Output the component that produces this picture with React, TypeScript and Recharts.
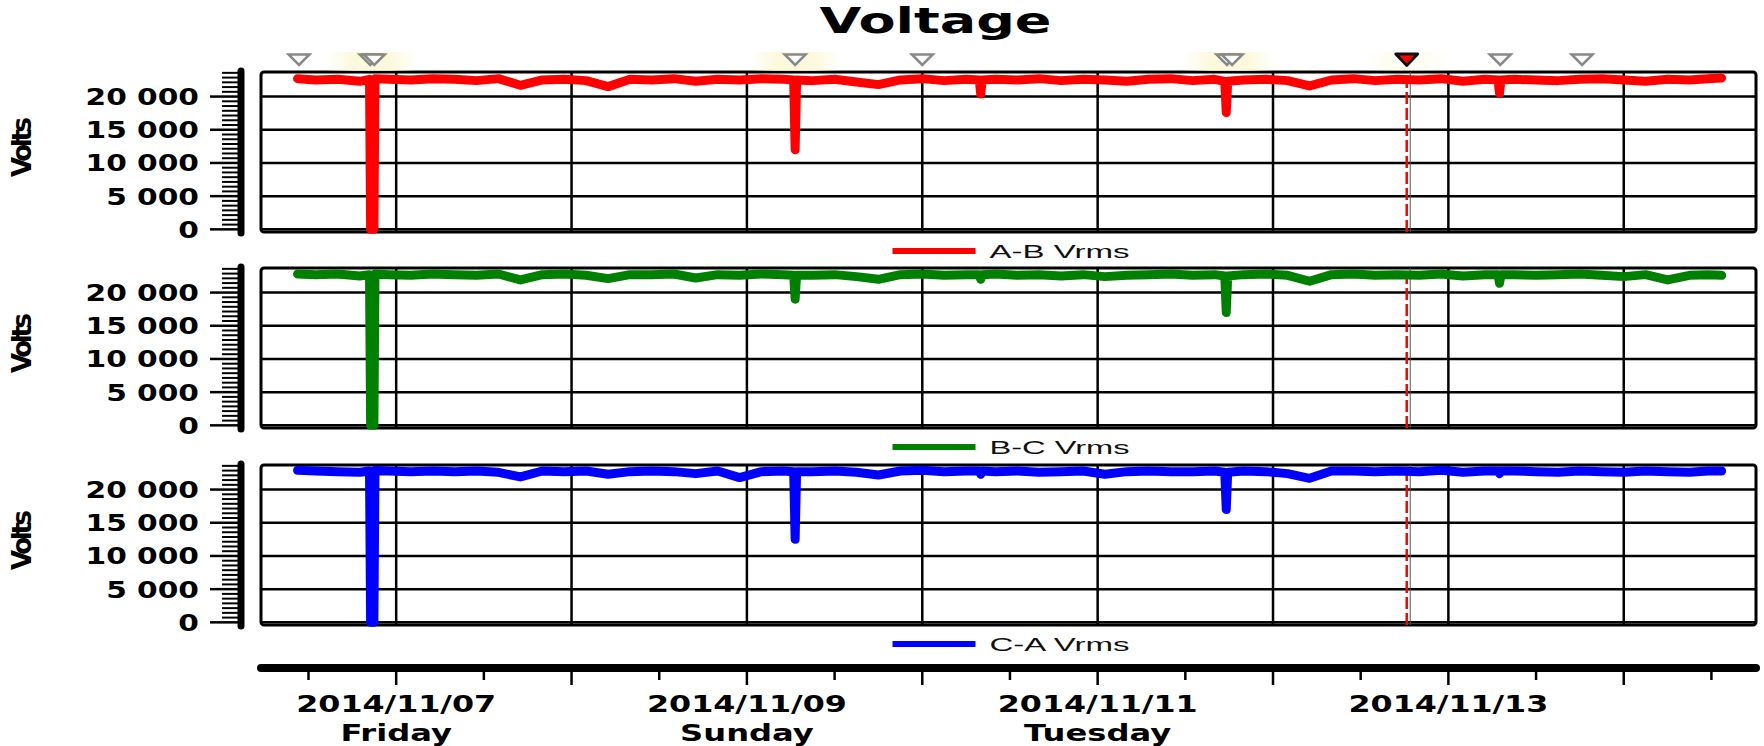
import React from 'react';
import {
  ComposedChart,
  Line,
  XAxis,
  YAxis,
  CartesianGrid,
  ReferenceLine,
  ReferenceArea,
  Scatter,
} from 'recharts';

// ---------- data (hours relative to 2014/11/07 00:00) ----------
const HOURS = [
  -13.5, -11, -8, -5, -3.65, -3.5, -3.05, -2.9, -1, 2,
  5, 8, 11, 14, 17, 20, 23, 26, 29, 32,
  35, 38, 41, 44, 47, 50, 53, 54.4, 54.6, 54.8,
  57, 60, 63, 66, 69, 72, 75, 78, 79.8, 80,
  80.2, 82, 85, 88, 91, 94, 97, 100, 103, 106,
  109, 112, 113.4, 113.6, 113.8, 116, 119, 122, 125, 128,
  131, 134, 137, 140, 143, 146, 149, 150.8, 151, 151.2,
  153, 156, 159, 162, 165, 168, 171, 174, 177, 179.5,
  181.4,
];

const AB_VRMS = [
  22700, 22500, 22600, 22300, 22600, 0, 0, 22700, 22600, 22500,
  22700, 22600, 22400, 22700, 21700, 22500, 22600, 22400, 21500, 22600,
  22500, 22700, 22300, 22600, 22500, 22700, 22600, 22500, 12000, 22500,
  22400, 22600, 22200, 21800, 22500, 22700, 22400, 22600, 22500, 20400,
  22500, 22600, 22500, 22700, 22400, 22600, 22500, 22300, 22600, 22700,
  22400, 22600, 22300, 17600, 22300, 22500, 22600, 22400, 21600, 22500,
  22700, 22400, 22600, 22500, 22700, 22300, 22600, 22500, 20500, 22500,
  22600, 22500, 22400, 22600, 22700, 22500, 22300, 22600, 22500, 22700,
  22800,
];

const BC_VRMS = [
  22800, 22700, 22800, 22500, 22700, 0, 0, 22800, 22700, 22600,
  22800, 22700, 22600, 22800, 21900, 22700, 22800, 22600, 22100, 22700,
  22700, 22800, 22200, 22700, 22600, 22800, 22700, 22600, 19000, 22600,
  22600, 22700, 22400, 22000, 22700, 22800, 22600, 22700, 22700, 22000,
  22700, 22800, 22600, 22700, 22500, 22700, 22400, 22600, 22700, 22800,
  22600, 22700, 22500, 17000, 22500, 22700, 22800, 22600, 21700, 22700,
  22800, 22600, 22700, 22600, 22800, 22500, 22700, 22700, 21400, 22700,
  22700, 22600, 22700, 22800, 22600, 22400, 22700, 21900, 22600, 22700,
  22600,
];

const CA_VRMS = [
  22900, 22800, 22700, 22600, 22800, 0, 0, 22900, 22800, 22700,
  22800, 22700, 22800, 22600, 21900, 22800, 22700, 22800, 22300, 22700,
  22800, 22700, 22400, 22800, 21800, 22700, 22800, 22700, 12500, 22700,
  22700, 22800, 22600, 22200, 22800, 22900, 22700, 22800, 22800, 22300,
  22800, 22700, 22800, 22600, 22700, 22800, 22300, 22700, 22800, 22700,
  22700, 22800, 22600, 17000, 22600, 22800, 22700, 22400, 21700, 22800,
  22800, 22700, 22800, 22700, 22900, 22600, 22800, 22800, 22400, 22800,
  22800, 22700, 22600, 22800, 22700, 22600, 22800, 22700, 22600, 22800,
  22800,
];

// event markers along the top of the first panel
const EVENT_HOURS = [-13.3, -3.55, -3.0, 54.6, 72.0, 113.7, 114.4, 151.1, 162.3];
const GLOW_HOURS = [-3.3, 54.6, 114.0, 138.3];
const GLOW_STRENGTH = [1, 1, 1, 0.35];
const CURSOR_HOUR = 138.3;

// axes
const X_DOMAIN: [number, number] = [-18.5, 186.1];
const Y_DOMAIN: [number, number] = [-400, 23700];
const DAY_HOURS = [0, 24, 48, 72, 96, 120, 144, 168];
const HALF_DAY_HOURS = [-12, 12, 36, 60, 84, 108, 132, 156, 180];
const DATE_LABEL_HOURS = [0, 48, 96, 144];
const DATE_LABELS = ['2014/11/07', '2014/11/09', '2014/11/11', '2014/11/13'];
const WEEKDAY_LABELS = ['Friday', 'Sunday', 'Tuesday', ''];
const Y_MAJOR = [0, 5000, 10000, 15000, 20000];
const Y_LABELS = ['0', '5 000', '10 000', '15 000', '20 000'];
const Y_MINOR_PER_MAJOR = 7;

const SERIES_NAMES = ['A-B Vrms', 'B-C Vrms', 'C-A Vrms'];
const SERIES_KEYS = ['ab', 'bc', 'ca'];
const SERIES_COLORS = ['#ff0000', '#008000', '#0000ff'];

// ---------- derived tables ----------
const ROWS = HOURS.map((h, i) => ({ h, ab: AB_VRMS[i], bc: BC_VRMS[i], ca: CA_VRMS[i] }));
const Y_TICKS: number[] = [];
for (let v = 0; v <= Y_DOMAIN[1]; v += 5000 / Y_MINOR_PER_MAJOR) Y_TICKS.push(v);
const X_TICKS = [...DAY_HOURS, ...HALF_DAY_HOURS].sort((a, b) => a - b);
const EVENTS = EVENT_HOURS.map((h) => ({ h, v: Y_DOMAIN[1] }));
const GLOWS = GLOW_HOURS.map((h, i) => ({ h, v: Y_DOMAIN[1], s: GLOW_STRENGTH[i] }));
const CURSOR = [{ h: CURSOR_HOUR, v: Y_DOMAIN[1] }];

// ---------- layout ----------
const W = 1764;
const PLOT_LEFT = 261;
const PLOT_RIGHT = 1756;
const PLOT_H = 160;
const M_TOP = 26;
const M_BOTTOM = 16;
const PANEL_TOPS = [72, 268, 465];
const AXIS_GAP = 20;
const X_AXIS_Y = 666;
const BOLD = '"DejaVu Sans", Verdana, sans-serif';

const YTick = (props: any) => {
  const { x, y, payload } = props;
  const v = payload.value;
  const ax = x - AXIS_GAP;
  const mi = Y_MAJOR.findIndex((m) => Math.abs(m - v) < 1);
  if (mi < 0) {
    return <line x1={ax - 19} x2={ax} y1={y} y2={y} stroke="#000" strokeWidth={2} />;
  }
  return (
    <g>
      <line x1={ax - 31} x2={ax} y1={y} y2={y} stroke="#000" strokeWidth={2.5} />
      <g transform={`translate(${ax - 42},${y + 8.5}) scale(1.29,1)`}>
        <text x={0} y={0} textAnchor="end" fontFamily={BOLD} fontWeight="bold" fontSize={23} fill="#000">
          {Y_LABELS[mi]}
        </text>
      </g>
    </g>
  );
};

const YDecor = (props: any) => {
  const vb = props.viewBox || {};
  const { x = 0, y = 0, width = PLOT_LEFT, height = PLOT_H } = vb;
  const ax = x + width - AXIS_GAP;
  return (
    <g>
      <line x1={ax} x2={ax} y1={y - 1} y2={y + height + 1} stroke="#000" strokeWidth={7} strokeLinecap="round" />
      <text
        transform={`translate(22,${y + height / 2 - 5}) rotate(-90)`}
        textAnchor="middle"
        dominantBaseline="central"
        fontFamily={BOLD}
        fontWeight="bold"
        fontSize={26}
        textLength={60}
        lengthAdjust="spacing"
        fill="#000"
      >
        Volts
      </text>
    </g>
  );
};

const CursorShape = (p: any) => (
  <g>
    <line x1={p.x1} x2={p.x2} y1={p.y1} y2={p.y2} stroke="#ff0000" strokeWidth={2.5} strokeDasharray="12 4" />
    <line x1={p.x1 + 3.5} x2={p.x2 + 3.5} y1={p.y1} y2={p.y2} stroke="#555" strokeWidth={1} />
  </g>
);

const Triangle = (p: any) => {
  const { cx, cy } = p;
  return (
    <path
      d={`M${cx - 10.5},${cy - 17.5} L${cx + 10.5},${cy - 17.5} L${cx},${cy - 7} Z`}
      fill="#fff"
      stroke="#888"
      strokeWidth={2.5}
      strokeLinejoin="miter"
    />
  );
};

const RedTriangle = (p: any) => {
  const { cx, cy } = p;
  return (
    <path
      d={`M${cx - 11},${cy - 18} L${cx + 11},${cy - 18} L${cx},${cy - 6.5} Z`}
      fill="#ff0000"
      stroke="#111"
      strokeWidth={2.8}
      strokeLinejoin="round"
    />
  );
};

const Glow = (p: any) => {
  const { cx, cy, payload } = p;
  const id = `glow-${Math.round(cx)}`;
  const s = payload && payload.s != null ? payload.s : 1;
  return (
    <g>
      <defs>
        <linearGradient id={id} x1="0" x2="1" y1="0" y2="0">
          <stop offset="0" stopColor="#fbf7d0" stopOpacity={0} />
          <stop offset="0.3" stopColor="#fbf7d0" stopOpacity={0.75 * s} />
          <stop offset="0.7" stopColor="#fbf7d0" stopOpacity={0.75 * s} />
          <stop offset="1" stopColor="#fbf7d0" stopOpacity={0} />
        </linearGradient>
      </defs>
      <rect x={cx - 46} y={cy - 20} width={92} height={19} fill={`url(#${id})`} />
    </g>
  );
};

const XTick = (props: any) => {
  const { x, y, payload } = props;
  const h = payload.value;
  const major = DAY_HOURS.includes(h);
  const li = DATE_LABEL_HOURS.indexOf(h);
  return (
    <g>
      <line x1={x} x2={x} y1={y} y2={y + (major ? 17 : 12)} stroke="#000" strokeWidth={2.5} />
      {li >= 0 && (
        <g transform={`translate(${x},${y + 44}) scale(1.38,1)`}>
          <text x={0} y={0} textAnchor="middle" fontFamily={BOLD} fontWeight="bold" fontSize={23} fill="#000">
            {DATE_LABELS[li]}
          </text>
        </g>
      )}
      {li >= 0 && WEEKDAY_LABELS[li] !== '' && (
        <g transform={`translate(${x},${y + 73}) scale(1.4,1)`}>
          <text x={0} y={0} textAnchor="middle" fontFamily={BOLD} fontWeight="bold" fontSize={23} fill="#000">
            {WEEKDAY_LABELS[li]}
          </text>
        </g>
      )}
    </g>
  );
};

function Panel({ idx }: { idx: number }) {
  const top = PANEL_TOPS[idx];
  const H = M_TOP + PLOT_H + M_BOTTOM;
  const showMarkers = idx === 0;
  return (
    <div style={{ position: 'absolute', left: 0, top: top - M_TOP, width: W, height: H }}>
      <ComposedChart
        width={W}
        height={H}
        data={ROWS}
        margin={{ top: M_TOP, right: W - PLOT_RIGHT, bottom: M_BOTTOM, left: 0 }}
      >
        <XAxis type="number" dataKey="h" domain={X_DOMAIN} ticks={DAY_HOURS} hide />
        <YAxis
          type="number"
          domain={Y_DOMAIN}
          ticks={Y_TICKS}
          interval={0}
          width={PLOT_LEFT}
          axisLine={false}
          tickLine={false}
          tickSize={0}
          tickMargin={0}
          tick={(p: any) => <YTick {...p} />}
          label={{ content: (p: any) => <YDecor {...p} /> }}
        />
        <CartesianGrid
          horizontalValues={Y_MAJOR}
          verticalValues={DAY_HOURS}
          stroke="#000"
          strokeWidth={2.5}
        />
        {showMarkers && (
          <Scatter data={GLOWS} dataKey="v" shape={(p: any) => <Glow {...p} />} isAnimationActive={false} />
        )}
        <ReferenceLine x={CURSOR_HOUR} shape={(p: any) => <CursorShape {...p} />} />
        <Line
          type="linear"
          dataKey={SERIES_KEYS[idx]}
          stroke={SERIES_COLORS[idx]}
          strokeWidth={9}
          strokeLinecap="round"
          strokeLinejoin="round"
          dot={false}
          activeDot={false}
          isAnimationActive={false}
        />
        <ReferenceArea
          x1={X_DOMAIN[0]}
          x2={X_DOMAIN[1]}
          y1={Y_DOMAIN[0]}
          y2={Y_DOMAIN[1]}
          fill="none"
          fillOpacity={0}
          stroke="#000"
          strokeWidth={3}
          radius={3}
        />
        {showMarkers && (
          <Scatter data={EVENTS} dataKey="v" shape={(p: any) => <Triangle {...p} />} isAnimationActive={false} />
        )}
        {showMarkers && (
          <Scatter data={CURSOR} dataKey="v" shape={(p: any) => <RedTriangle {...p} />} isAnimationActive={false} />
        )}
      </ComposedChart>
    </div>
  );
}

function BottomAxis() {
  const H = 104;
  const mt = 2;
  return (
    <div style={{ position: 'absolute', left: 0, top: X_AXIS_Y - mt, width: W, height: H }}>
      <ComposedChart
        width={W}
        height={H}
        data={ROWS}
        margin={{ top: mt, right: W - PLOT_RIGHT, bottom: 0, left: PLOT_LEFT }}
      >
        <XAxis
          type="number"
          dataKey="h"
          domain={X_DOMAIN}
          ticks={X_TICKS}
          interval={0}
          height={H - mt - 2}
          tickSize={0}
          tickMargin={0}
          tickLine={false}
          axisLine={{ stroke: '#000', strokeWidth: 8, strokeLinecap: 'round' }}
          tick={(p: any) => <XTick {...p} />}
        />
        <YAxis hide domain={Y_DOMAIN} />
      </ComposedChart>
    </div>
  );
}

function Overlay() {
  const cx = (PLOT_LEFT + PLOT_RIGHT) / 2;
  return (
    <svg width={W} height={746} style={{ position: 'absolute', left: 0, top: 0, pointerEvents: 'none' }}>
      <g transform={`translate(${cx - 73},33) scale(1.5,1)`}>
        <text x={0} y={0} textAnchor="middle" fontFamily={BOLD} fontWeight="bold" fontSize={36} fill="#000">
          Voltage
        </text>
      </g>
      {SERIES_NAMES.map((name, i) => {
        const ly = PANEL_TOPS[i] + PLOT_H + 19;
        return (
          <g key={name}>
            <line x1={cx - 116} x2={cx - 33} y1={ly} y2={ly} stroke={SERIES_COLORS[i]} strokeWidth={6} />
            <text
              x={cx - 19}
              y={ly + 6.5}
              fontFamily='"Liberation Sans", Arial, sans-serif'
              fontSize={18}
              textLength={140}
              lengthAdjust="spacingAndGlyphs"
              fill="#111"
            >
              {name}
            </text>
          </g>
        );
      })}
    </svg>
  );
}

export default function App() {
  return (
    <div
      style={{
        position: 'absolute',
        left: 0,
        top: 0,
        width: W,
        height: 746,
        background: '#fff',
        overflow: 'hidden',
      }}
    >
      <Overlay />
      <Panel idx={0} />
      <Panel idx={1} />
      <Panel idx={2} />
      <BottomAxis />
    </div>
  );
}
